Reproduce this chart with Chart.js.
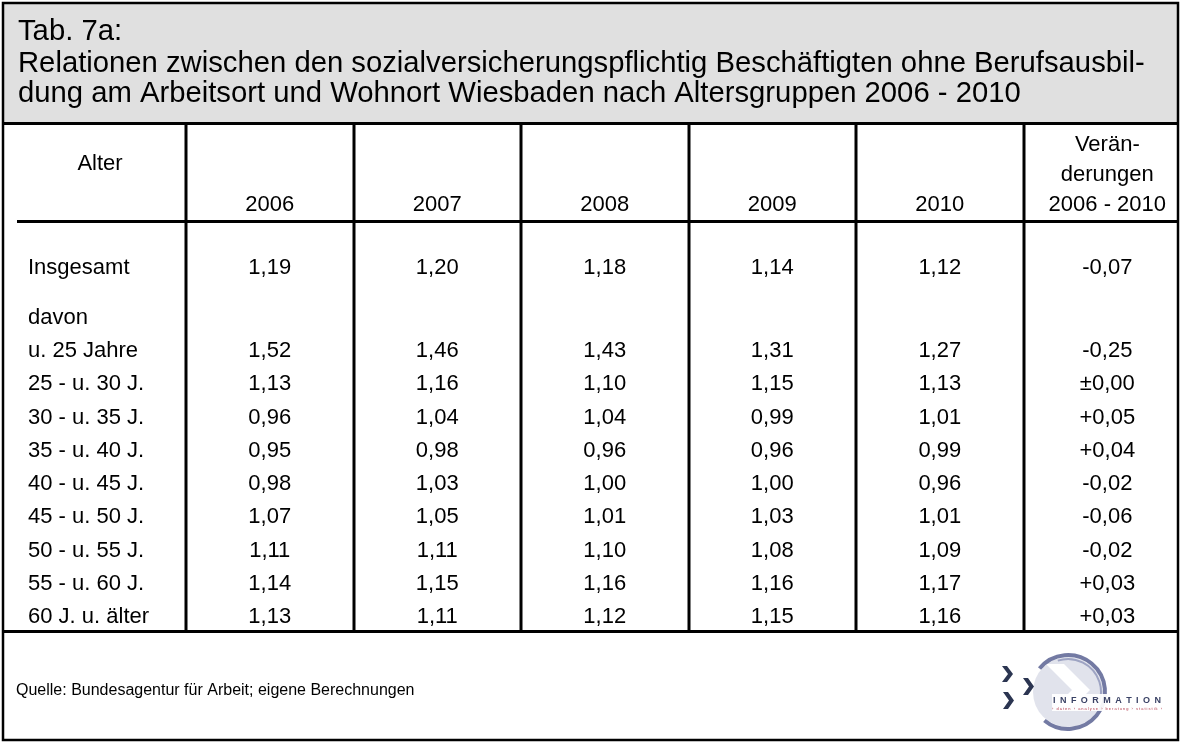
<!DOCTYPE html>
<html>
<head>
<meta charset="utf-8">
<script src="https://cdn.jsdelivr.net/npm/chart.js@4.4.1/dist/chart.umd.min.js"></script>
<style>
html,body{margin:0;padding:0;background:#fff;}
#wrap{width:1181px;height:743px;}
canvas{display:block;}
</style>
</head>
<body>
<div id="wrap"><canvas id="c" width="1181" height="743"></canvas></div>
<script>
// ---------- data ----------
const titleLines = [
  'Tab. 7a:',
  'Relationen zwischen den sozialversicherungspflichtig Beschäftigten ohne Berufsausbil-',
  'dung am Arbeitsort und Wohnort Wiesbaden nach Altersgruppen 2006 - 2010'
];
const stubHeader = 'Alter';
const columnHeaders = [['2006'], ['2007'], ['2008'], ['2009'], ['2010'], ['Verän-', 'derungen', '2006 - 2010']];
const rows = ['Insgesamt', 'davon', 'u. 25 Jahre', '25 - u. 30 J.', '30 - u. 35 J.', '35 - u. 40 J.',
              '40 - u. 45 J.', '45 - u. 50 J.', '50 - u. 55 J.', '55 - u. 60 J.', '60 J. u. älter'];
const v2006  = [1.19, null, 1.52, 1.13, 0.96, 0.95, 0.98, 1.07, 1.11, 1.14, 1.13];
const v2007  = [1.20, null, 1.46, 1.16, 1.04, 0.98, 1.03, 1.05, 1.11, 1.15, 1.11];
const v2008  = [1.18, null, 1.43, 1.10, 1.04, 0.96, 1.00, 1.01, 1.10, 1.16, 1.12];
const v2009  = [1.14, null, 1.31, 1.15, 0.99, 0.96, 1.00, 1.03, 1.08, 1.16, 1.15];
const v2010  = [1.12, null, 1.27, 1.13, 1.01, 0.99, 0.96, 1.01, 1.09, 1.17, 1.16];
const change = [-0.07, null, -0.25, 0.00, 0.05, 0.04, -0.02, -0.06, -0.02, 0.03, 0.03];
const sourceText = 'Quelle: Bundesagentur für Arbeit; eigene Berechnungen';

// ---------- helpers ----------
const FONT = '"Liberation Sans", Arial, Helvetica, sans-serif';
const W = 1181, H = 743;
const BODY = '22px ' + FONT;
const columns = [v2006, v2007, v2008, v2009, v2010, change];
// vertical grid of the y (category) scale in half-row steps: a wider gap after the total row
const yGrid = rows.flatMap((r, i) => i === rows.length - 1 ? [r] : (i === 0 ? [r, ' ', '  '] : [r, ' '.repeat(i + 3)]));

function fmt(v, signed) {
  const s = Math.abs(v).toFixed(2).replace('.', ',');
  if (!signed) return (v < 0 ? '-' : '') + s;
  if (v > 0) return '+' + s;
  if (v < 0) return '-' + s;
  return '\u00b1' + s;
}

function chevron(ctx, x0, y0, w, h, t) {
  ctx.beginPath();
  ctx.moveTo(x0, y0);
  ctx.lineTo(x0 + t, y0);
  ctx.lineTo(x0 + w, y0 + h / 2);
  ctx.lineTo(x0 + t, y0 + h);
  ctx.lineTo(x0, y0 + h);
  ctx.lineTo(x0 + w - t, y0 + h / 2);
  ctx.closePath();
  ctx.fill();
}

function spacedText(ctx, text, x, y, width) {
  const chars = text.split('');
  const total = chars.reduce((s, c) => s + ctx.measureText(c).width, 0);
  const gap = chars.length > 1 ? (width - total) / (chars.length - 1) : 0;
  let cx = x;
  chars.forEach(c => { ctx.fillText(c, cx, y); cx += ctx.measureText(c).width + gap; });
}

function drawLogo(ctx) {
  const cx = 1068, cy = 692, r = 37;
  ctx.save();
  ctx.fillStyle = '#e1e3ec';
  ctx.beginPath(); ctx.arc(cx, cy, r - 2, 0, Math.PI * 2); ctx.fill();
  ctx.fillStyle = '#ffffff';
  ctx.beginPath();
  ctx.moveTo(cx - 22, cy - 28);
  ctx.lineTo(cx - 4, cy - 28);
  ctx.lineTo(cx + 22, cy - 2);
  ctx.lineTo(cx + 6, cy + 14);
  ctx.lineTo(cx - 12, cy + 14);
  ctx.lineTo(cx + 4, cy - 2);
  ctx.closePath();
  ctx.fill();
  ctx.strokeStyle = '#737aa3';
  ctx.lineWidth = 4;
  ctx.beginPath(); ctx.arc(cx, cy, r, -Math.PI * 0.78, Math.PI * 0.72); ctx.stroke();
  ctx.strokeStyle = '#9ea4c3';
  ctx.lineWidth = 2;
  ctx.beginPath(); ctx.arc(cx, cy, r - 4, -Math.PI * 0.6, Math.PI * 0.1); ctx.stroke();
  ctx.fillStyle = 'rgba(255,255,255,0.92)';
  ctx.fillRect(cx - 16, cy + 2, 98, 17);
  ctx.fillStyle = '#2b3551';
  chevron(ctx, 1002, 666, 11, 16, 5);
  chevron(ctx, 1023, 678, 11, 17, 5);
  chevron(ctx, 1003, 692, 11, 17, 5);
  ctx.fillStyle = '#3a4265';
  ctx.font = 'bold 9px ' + FONT;
  ctx.textBaseline = 'alphabetic';
  ctx.textAlign = 'left';
  spacedText(ctx, 'INFORMATION', 1053, 703, 108);
  ctx.fillStyle = '#b2394b';
  ctx.font = '4px ' + FONT;
  spacedText(ctx, '\u203a daten \u203a analyse \u203a beratung \u203a statistik \u203a', 1052, 710, 110);
  ctx.restore();
}

const tablePlugin = {
  id: 'tablePlugin',
  beforeDraw(chart) {
    const ctx = chart.ctx;
    ctx.save();
    ctx.fillStyle = '#ffffff';
    ctx.fillRect(0, 0, W, H);
    ctx.fillStyle = '#e0e0e0';
    ctx.fillRect(3, 3, 1175, 120);
    ctx.fillStyle = '#000';
    ctx.textAlign = 'left';
    ctx.textBaseline = 'alphabetic';
    ctx.font = '100px ' + FONT;
    const wLong = ctx.measureText(titleLines[1]).width;
    const size = 100 * 1127 / wLong;
    ctx.font = size.toFixed(2) + 'px ' + FONT;
    const base = [40, 72, 102];
    titleLines.forEach((t, i) => ctx.fillText(t, 18, base[i]));
    ctx.restore();
  },
  afterDraw(chart) {
    const ctx = chart.ctx, xs = chart.scales.x, ys = chart.scales.y;
    const bottomLine = 631;
    ctx.save();
    ctx.strokeStyle = '#000';
    ctx.lineCap = 'butt';
    ctx.lineWidth = 3;
    ctx.beginPath(); ctx.moveTo(3, 123.5); ctx.lineTo(1178, 123.5); ctx.stroke();
    ctx.beginPath(); ctx.moveTo(17, 221.5); ctx.lineTo(1178, 221.5); ctx.stroke();
    ctx.beginPath(); ctx.moveTo(3, bottomLine + 0.5); ctx.lineTo(1178, bottomLine + 0.5); ctx.stroke();
    for (let i = 0; i < columns.length; i++) {
      const x = Math.round(xs.getPixelForValue(i - 0.5));
      ctx.beginPath(); ctx.moveTo(x, 123); ctx.lineTo(x, bottomLine); ctx.stroke();
    }
    ctx.lineWidth = 2.5;
    ctx.strokeRect(3, 3, 1175, 737);

    // header
    ctx.fillStyle = '#000';
    ctx.font = BODY;
    ctx.textAlign = 'center';
    ctx.textBaseline = 'alphabetic';
    ctx.fillText(stubHeader, 100, 170);
    columnHeaders.forEach((lines, i) => {
      const x = xs.getPixelForValue(i);
      const n = lines.length;
      lines.forEach((t, k) => ctx.fillText(t, x, 211 - (n - 1 - k) * 30));
    });

    // row labels at the y-scale positions
    ctx.textAlign = 'left';
    ctx.textBaseline = 'middle';
    rows.forEach(r => ctx.fillText(r, 28, ys.getPixelForValue(yGrid.indexOf(r))));

    // cell values at the element positions
    ctx.textAlign = 'center';
    chart.data.datasets.forEach((ds, di) => {
      const meta = chart.getDatasetMeta(di);
      meta.data.forEach((el, j) => {
        ctx.fillText(fmt(ds.data[j].v, di === columns.length - 1), el.x, el.y);
      });
    });

    ctx.textAlign = 'left';
    ctx.font = '16px ' + FONT;
    ctx.fillText(sourceText, 16, 691);

    drawLogo(ctx);
    ctx.restore();
  }
};

const datasets = columns.map((vals, ci) => ({
  label: ci < 5 ? columnHeaders[ci][0] : 'Veränderungen',
  data: rows.map((r, ri) => (vals[ri] === null ? null : { x: ci, y: r, v: vals[ri] })).filter(Boolean),
  pointRadius: 0,
  pointHoverRadius: 0,
  showLine: false
}));

new Chart(document.getElementById('c'), {
  type: 'scatter',
  data: { datasets },
  options: {
    responsive: false,
    animation: false,
    events: [],
    layout: { padding: { left: 186, right: 0, top: 268, bottom: H - 617 } },
    plugins: { legend: { display: false }, tooltip: { enabled: false } },
    scales: {
      x: { type: 'linear', min: -0.5, max: 5.44, display: false },
      y: { type: 'category', labels: yGrid, offset: false, display: false }
    }
  },
  plugins: [tablePlugin]
});
</script>
</body>
</html>
